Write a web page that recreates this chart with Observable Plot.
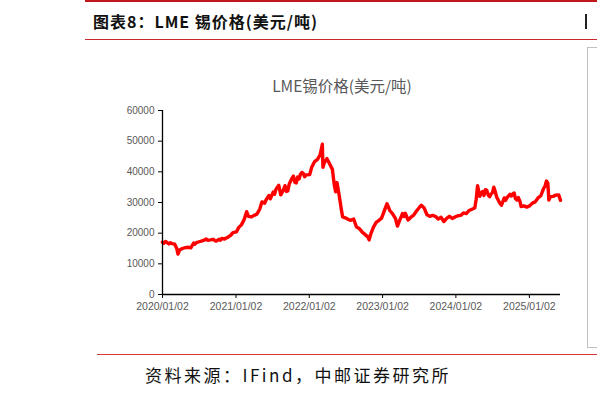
<!DOCTYPE html>
<html>
<head>
<meta charset="utf-8">
<script src="https://cdn.jsdelivr.net/npm/d3@7"></script>
<script src="https://cdn.jsdelivr.net/npm/@observablehq/plot@0.6"></script>
<style>
  html, body { margin: 0; padding: 0; background: #fff; }
  #wrap { position: relative; width: 597px; height: 395px; overflow: hidden; background: #fff; }
  #wrap svg { position: absolute; left: 0; top: 0; }
  .abs { position: absolute; white-space: nowrap; }
  #title { left: 93px; top: 10px; font: bold 16px "Noto Sans CJK SC", sans-serif; letter-spacing: 1px; color: #111; line-height: 22px; }
  #ctitle { left: 0; width: 684px; text-align: center; top: 74px; font: 15.5px "Noto Sans CJK SC", sans-serif; color: #595959; line-height: 22px; }
  #source { left: 145px; top: 364px; font: 17px "Noto Sans CJK SC", sans-serif; letter-spacing: 2.5px; color: #111; line-height: 22px; }
</style>
</head>
<body>
<div id="wrap"></div>
<script>
// ---- data (~biweekly) ----
const dates2020 = ["2020-01-02","2020-01-10","2020-01-17","2020-02-03","2020-02-10","2020-02-18","2020-03-03","2020-03-13","2020-03-19","2020-03-27",
  "2020-04-10","2020-04-24","2020-05-08","2020-05-22","2020-06-05","2020-06-12","2020-06-19","2020-07-03","2020-07-17","2020-07-31",
  "2020-08-07","2020-08-14","2020-08-28","2020-09-11","2020-09-18","2020-09-25","2020-10-09","2020-10-16","2020-10-23","2020-11-06",
  "2020-11-13","2020-11-20","2020-12-04","2020-12-11","2020-12-18"];
const prices2020 = [17100,16700,17300,16500,16900,16600,16400,15000,13200,14500,
  15000,15300,15400,15200,16800,16400,16900,17200,17500,17800,
  18100,17700,17800,18000,17600,17400,18000,17700,18300,18100,
  18400,18600,19200,19600,20200];

const dates2021 = ["2021-01-04","2021-01-15","2021-01-29","2021-02-12","2021-02-24","2021-03-05","2021-03-19","2021-04-02","2021-04-16","2021-04-30",
  "2021-05-11","2021-05-25","2021-06-01","2021-06-08","2021-06-15","2021-06-22","2021-07-06","2021-07-13","2021-07-20","2021-07-27",
  "2021-08-03","2021-08-13","2021-08-27","2021-09-03","2021-09-10","2021-09-17","2021-09-24","2021-10-08","2021-10-15","2021-10-22",
  "2021-10-29","2021-11-05","2021-11-12","2021-11-19","2021-11-26","2021-12-03","2021-12-10","2021-12-17"];
const prices2021 = [20400,21800,22700,24500,27000,25500,25300,25800,26200,27800,
  30200,29800,30900,31600,32300,31200,33400,32700,34300,35000,
  35600,32500,34200,35500,33600,33800,36000,37900,38600,36600,
  36400,38300,37700,39200,39800,39500,38400,39000];

const dates2022 = ["2022-01-04","2022-01-14","2022-01-28","2022-02-11","2022-02-25","2022-03-08","2022-03-11","2022-03-18","2022-03-31","2022-04-13",
  "2022-04-27","2022-05-06","2022-05-13","2022-05-20","2022-05-31","2022-06-10","2022-06-17","2022-06-30","2022-07-14","2022-07-28",
  "2022-08-11","2022-08-25","2022-09-08","2022-09-22","2022-10-06","2022-10-20","2022-10-27","2022-11-03","2022-11-17","2022-12-01",
  "2022-12-15","2022-12-28"];
const prices2022 = [39100,41500,43300,44000,45500,49000,41500,43000,44300,42600,
  40800,36000,33500,36500,32300,28000,25300,25000,24500,24200,
  24600,22000,21500,20400,19600,18800,17800,19500,21900,23500,
  24200,24900];

const dates2023 = ["2023-01-10","2023-01-24","2023-02-07","2023-02-21","2023-03-07","2023-03-17","2023-03-28","2023-04-11","2023-04-18","2023-04-25",
  "2023-05-09","2023-05-23","2023-06-06","2023-06-20","2023-07-04","2023-07-14","2023-07-28","2023-08-11","2023-08-25","2023-09-08",
  "2023-09-22","2023-10-06","2023-10-20","2023-11-03","2023-11-17","2023-12-01","2023-12-15","2023-12-29"];
const prices2023 = [27200,29600,27400,26300,24800,22300,24200,26400,25400,26500,
  24300,25200,25900,27200,28400,29100,28200,26000,25500,25800,
  25500,24600,25200,23800,24800,25500,24800,25300];

const dates2024 = ["2024-01-12","2024-01-26","2024-02-09","2024-02-23","2024-03-08","2024-03-22","2024-04-05","2024-04-12","2024-04-19","2024-04-30",
  "2024-05-07","2024-05-14","2024-05-21","2024-05-28","2024-06-04","2024-06-11","2024-06-18","2024-06-25","2024-07-02","2024-07-09",
  "2024-07-16","2024-07-23","2024-08-06","2024-08-16","2024-08-30","2024-09-06","2024-09-13","2024-09-27","2024-10-04","2024-10-11",
  "2024-10-18","2024-10-25","2024-11-01","2024-11-08","2024-11-15","2024-11-22","2024-12-06","2024-12-20"];
const prices2024 = [25700,25800,26600,26400,27400,27800,28200,31000,35500,32000,
  33000,33600,32300,34200,34000,32400,31900,32700,33200,35000,
  33600,31800,30000,29100,31500,30700,31600,32700,32100,32800,
  33100,31200,30800,31600,30600,28700,28900,28500];

const dates2025 = ["2025-01-03","2025-01-17","2025-01-31","2025-02-14","2025-02-28","2025-03-14","2025-03-21","2025-03-28","2025-04-04","2025-04-09",
  "2025-04-17","2025-04-30","2025-05-14","2025-05-28","2025-06-06"];
const prices2025 = [28900,29800,30200,31500,32200,34600,35300,37000,36300,30800,
  31900,32000,32400,32500,30700];

const xTickLabels = ["2020/01/02","2021/01/02","2022/01/02","2023/01/02","2024/01/02","2025/01/02"];
const yTicks = [0,10000,20000,30000,40000,50000,60000];

const dates = [...dates2020, ...dates2021, ...dates2022, ...dates2023, ...dates2024, ...dates2025];
const prices = [...prices2020, ...prices2021, ...prices2022, ...prices2023, ...prices2024, ...prices2025];

const parse = d3.utcParse("%Y-%m-%d");
const parseTick = d3.utcParse("%Y/%m/%d");
const data = dates.map((d, i) => ({date: parse(d), value: prices[i]}));
const xTicks = xTickLabels.map(parseTick);
const x0 = xTicks[0];
const x1 = parse(dates[dates.length - 1]);

const chart = Plot.plot({
  width: 597,
  height: 395,
  marginLeft: 162,
  marginRight: 37,
  marginTop: 110,
  marginBottom: 101,
  style: {fontFamily: "'Liberation Sans', Arial, sans-serif", background: "transparent"},
  x: {type: "utc", domain: [x0, x1]},
  y: {domain: [0, 60000]},
  marks: [
    Plot.axisY({ticks: yTicks, tickFormat: d => String(d), tickSize: 4, tickPadding: 4, fontSize: 10, stroke: "#000", fill: "#595959", label: null}),
    Plot.axisX({ticks: xTicks, tickFormat: d3.utcFormat("%Y/%m/%d"), tickSize: 4, tickPadding: 4, fontSize: 10.5, stroke: "#000", fill: "#595959", label: null}),
    Plot.lineY(data, {x: "date", y: "value", stroke: "#ff0000", strokeWidth: 3.4, strokeLinejoin: "round"}),
    Plot.ruleX([x0], {stroke: "#000", strokeWidth: 1.3}),
    Plot.ruleY([0], {stroke: "#000", strokeWidth: 1.3})
  ]
});

const wrap = document.getElementById("wrap");
wrap.appendChild(chart);

function addDiv(id, cls, text, style) {
  const el = document.createElement("div");
  if (id) el.id = id;
  el.className = cls;
  if (text) el.textContent = text;
  if (style) el.setAttribute("style", style);
  wrap.appendChild(el);
  return el;
}
// rules, frame of the neighbouring panel, and the cut edge of the next panel's title
addDiv(null, "abs", "", "left:85px;top:0;width:512px;height:2px;background:#c0171d;");
addDiv(null, "abs", "", "left:85px;top:39px;width:512px;height:1px;background:#c8282c;");
addDiv(null, "abs", "", "left:97px;top:354px;width:500px;height:1px;background:#d9383a;");
addDiv(null, "abs", "", "left:587px;top:47px;width:20px;height:299px;border:1px solid #bfbfbf;");
addDiv(null, "abs", "", "left:585px;top:14px;width:2px;height:15px;background:#222;");
addDiv("title", "abs", "图表8：LME 锡价格(美元/吨)");
addDiv("ctitle", "abs", "LME锡价格(美元/吨)");
addDiv("source", "abs", "资料来源：IFind，中邮证券研究所");
</script>
</body>
</html>
